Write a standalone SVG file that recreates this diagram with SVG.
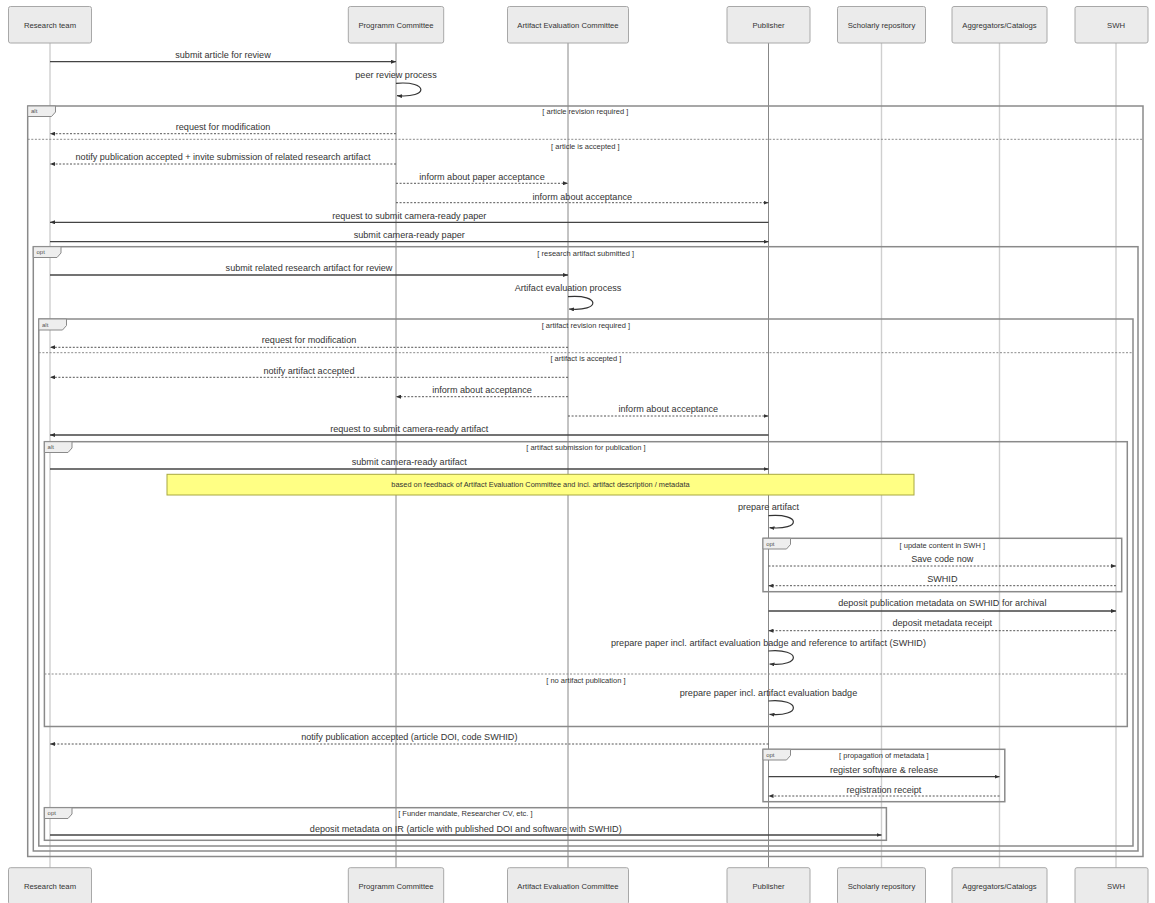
<svg xmlns="http://www.w3.org/2000/svg" width="1155" height="903" viewBox="0 0 1155 903">
<defs>
<style>
.box{fill:#ebebeb;stroke:#a8a8a8;stroke-width:1}
.plabel{font-family:"Liberation Sans",Arial,sans-serif;font-size:7.7px;fill:#333;text-anchor:middle;dominant-baseline:central}
.life{stroke:#888;stroke-width:1}
.lifel{stroke:#cfcfcf;stroke-width:1.4}
.msg{font-family:"Liberation Sans",Arial,sans-serif;font-size:9.1px;fill:#333;text-anchor:middle;dominant-baseline:central}
.solid{stroke:#444;stroke-width:1.3;fill:none;marker-end:url(#ah)}
.dot{stroke:#555;stroke-width:1;stroke-dasharray:2,1.6;fill:none;marker-end:url(#ah)}
.loop{stroke:#333;stroke-width:1.2;fill:none;marker-end:url(#ah)}
.frame{fill:none;stroke:#8a8a8a;stroke-width:1.5}
.sep{stroke:#8a8a8a;stroke-width:1;stroke-dasharray:2,1.6}
.tab{fill:#eeeeee;stroke:#8a8a8a;stroke-width:1}
.tabt{font-family:"Liberation Sans",Arial,sans-serif;font-size:6px;fill:#555;dominant-baseline:central}
.flabel{font-family:"Liberation Sans",Arial,sans-serif;font-size:7.5px;fill:#333;text-anchor:middle;dominant-baseline:central}
.note{fill:#ffff84;stroke:#a8a840;stroke-width:1}
.notet{font-family:"Liberation Sans",Arial,sans-serif;font-size:7.4px;fill:#333;text-anchor:middle;dominant-baseline:central}
</style>
<marker id="ah" viewBox="0 0 5 4" refX="5" refY="2" markerWidth="5" markerHeight="4" markerUnits="userSpaceOnUse" orient="auto">
<path d="M0,0 L5,2 L0,4 z" fill="#333"/>
</marker>
</defs>
<rect x="0" y="0" width="1155" height="903" fill="#ffffff"/>

<g id="lifelines">
<line class="lifel" x1="50" y1="43" x2="50" y2="868"/>
<line class="life" x1="396" y1="43" x2="396" y2="868"/>
<line class="life" x1="568" y1="43" x2="568" y2="868"/>
<line class="life" x1="768.5" y1="43" x2="768.5" y2="868"/>
<line class="lifel" x1="881.5" y1="43" x2="881.5" y2="868"/>
<line class="lifel" x1="999.5" y1="43" x2="999.5" y2="868"/>
<line class="lifel" x1="1116" y1="43" x2="1116" y2="868"/>
</g>

<g id="research-team">
<rect class="box" x="8.5" y="6.5" width="83" height="36.5" rx="2"/>
<text class="plabel" x="50" y="25">Research team</text>
<rect class="box" x="8.5" y="867.7" width="83" height="36.5" rx="2"/>
<text class="plabel" x="50" y="886.5">Research team</text>
</g>
<g id="programm-committee">
<rect class="box" x="348.3" y="6.5" width="95.4" height="36.5" rx="2"/>
<text class="plabel" x="396" y="25">Programm Committee</text>
<rect class="box" x="348.3" y="867.7" width="95.4" height="36.5" rx="2"/>
<text class="plabel" x="396" y="886.5">Programm Committee</text>
</g>
<g id="artifact-evaluation-committee">
<rect class="box" x="507.5" y="6.5" width="121" height="36.5" rx="2"/>
<text class="plabel" x="568" y="25">Artifact Evaluation Committee</text>
<rect class="box" x="507.5" y="867.7" width="121" height="36.5" rx="2"/>
<text class="plabel" x="568" y="886.5">Artifact Evaluation Committee</text>
</g>
<g id="publisher">
<rect class="box" x="727" y="6.5" width="83" height="36.5" rx="2"/>
<text class="plabel" x="768.5" y="25">Publisher</text>
<rect class="box" x="727" y="867.7" width="83" height="36.5" rx="2"/>
<text class="plabel" x="768.5" y="886.5">Publisher</text>
</g>
<g id="scholarly-repository">
<rect class="box" x="837.5" y="6.5" width="88" height="36.5" rx="2"/>
<text class="plabel" x="881.5" y="25">Scholarly repository</text>
<rect class="box" x="837.5" y="867.7" width="88" height="36.5" rx="2"/>
<text class="plabel" x="881.5" y="886.5">Scholarly repository</text>
</g>
<g id="aggregators-catalogs">
<rect class="box" x="952" y="6.5" width="95" height="36.5" rx="2"/>
<text class="plabel" x="999.5" y="25">Aggregators/Catalogs</text>
<rect class="box" x="952" y="867.7" width="95" height="36.5" rx="2"/>
<text class="plabel" x="999.5" y="886.5">Aggregators/Catalogs</text>
</g>
<g id="swh">
<rect class="box" x="1075" y="6.5" width="73" height="36.5" rx="2"/>
<text class="plabel" x="1116" y="25">SWH</text>
<rect class="box" x="1075" y="867.7" width="73" height="36.5" rx="2"/>
<text class="plabel" x="1116" y="886.5">SWH</text>
</g>

<g id="frames">
<g id="frame-alt-article">
<rect class="frame" x="27.7" y="106" width="1115.3" height="750.5"/>
<polygon class="tab" points="27.7,106 55.5,106 55.5,112 51.5,116.5 27.7,116.5"/>
<text class="tabt" x="31" y="111.3">alt</text>
<text class="flabel" x="585.3" y="111.7">[ article revision required ]</text>
<line class="sep" x1="27.7" y1="139.3" x2="1143" y2="139.3"/>
<text class="flabel" x="585.3" y="146">[ article is accepted ]</text>
</g>
<g id="frame-opt-research">
<rect class="frame" x="33.3" y="246.7" width="1104.7" height="604.3"/>
<polygon class="tab" points="33.3,246.7 61,246.7 61,253 57,257.5 33.3,257.5"/>
<text class="tabt" x="36.5" y="252.2">opt</text>
<text class="flabel" x="585.7" y="253.3">[ research artifact submitted ]</text>
</g>
<g id="frame-alt-artifact">
<rect class="frame" x="38.8" y="319" width="1094.2" height="527"/>
<polygon class="tab" points="38.8,319 66.5,319 66.5,325.5 62.5,330 38.8,330"/>
<text class="tabt" x="42" y="324.5">alt</text>
<text class="flabel" x="585.9" y="325.3">[ artifact revision required ]</text>
<line class="sep" x1="38.8" y1="352.7" x2="1133" y2="352.7"/>
<text class="flabel" x="585.9" y="358.3">[ artifact is accepted ]</text>
</g>
<g id="frame-alt-submission">
<rect class="frame" x="44.4" y="441.7" width="1082.9" height="284.8"/>
<polygon class="tab" points="44.4,441.7 72,441.7 72,448 68,452.5 44.4,452.5"/>
<text class="tabt" x="47.6" y="447.2">alt</text>
<text class="flabel" x="585.9" y="447.3">[ artifact submission for publication ]</text>
<line class="sep" x1="44.4" y1="674" x2="1127.3" y2="674"/>
<text class="flabel" x="585.9" y="680">[ no artifact publication ]</text>
</g>
<g id="frame-opt-swh">
<rect class="frame" x="763" y="538.3" width="358.7" height="53.4"/>
<polygon class="tab" points="763,538.3 790.5,538.3 790.5,544.5 786.5,549 763,549"/>
<text class="tabt" x="766.2" y="543.7">opt</text>
<text class="flabel" x="942.3" y="545">[ update content in SWH ]</text>
</g>
<g id="frame-opt-propagation">
<rect class="frame" x="763" y="749.3" width="241.8" height="52.4"/>
<polygon class="tab" points="763,749.3 790.5,749.3 790.5,755.5 786.5,760 763,760"/>
<text class="tabt" x="766.2" y="754.7">opt</text>
<text class="flabel" x="883.9" y="755">[ propagation of metadata ]</text>
</g>
<g id="frame-opt-funder">
<rect class="frame" x="44.4" y="807.7" width="842" height="32.6"/>
<polygon class="tab" points="44.4,807.7 72,807.7 72,814 68,818.5 44.4,818.5"/>
<text class="tabt" x="47.6" y="813.2">opt</text>
<text class="flabel" x="465.4" y="813.8">[ Funder mandate, Researcher CV, etc. ]</text>
</g>
</g>

<g id="note">
<rect class="note" x="167" y="474.3" width="747" height="20.7"/>
<text class="notet" x="540.5" y="484.7">based on feedback of Artifact Evaluation Committee and incl. artifact description / metadata</text>
</g>

<g id="connectors">
<line class="solid" x1="50" y1="61.7" x2="396" y2="61.7"/>
<path class="loop" d="M396,83.3 C429,80.5 429,98.5 397,95.7"/>
<line class="dot" x1="396" y1="133.7" x2="50" y2="133.7"/>
<line class="dot" x1="396" y1="164" x2="50" y2="164"/>
<line class="dot" x1="396" y1="183.3" x2="568" y2="183.3"/>
<line class="dot" x1="396" y1="202.7" x2="768.5" y2="202.7"/>
<line class="solid" x1="768.5" y1="222.3" x2="50" y2="222.3"/>
<line class="solid" x1="50" y1="241.7" x2="768.5" y2="241.7"/>
<line class="solid" x1="50" y1="275" x2="568" y2="275"/>
<path class="loop" d="M568,296.7 C601,294 601,311.8 569,309"/>
<line class="dot" x1="568" y1="347.3" x2="50" y2="347.3"/>
<line class="dot" x1="568" y1="377.3" x2="50" y2="377.3"/>
<line class="dot" x1="568" y1="396.7" x2="396" y2="396.7"/>
<line class="dot" x1="568" y1="416" x2="768.5" y2="416"/>
<line class="solid" x1="768.5" y1="435" x2="50" y2="435"/>
<line class="solid" x1="50" y1="469" x2="768.5" y2="469"/>
<path class="loop" d="M768.5,515.7 C801.5,513 801.5,530.5 769.5,527.7"/>
<line class="dot" x1="768.5" y1="566" x2="1116" y2="566"/>
<line class="dot" x1="1116" y1="585.7" x2="768.5" y2="585.7"/>
<line class="solid" x1="768.5" y1="611" x2="1116" y2="611"/>
<line class="dot" x1="1116" y1="630.7" x2="768.5" y2="630.7"/>
<path class="loop" d="M768.5,651 C801.5,648.2 801.5,666.8 769.5,664"/>
<path class="loop" d="M768.5,701 C801.5,698.2 801.5,717.1 769.5,714.3"/>
<line class="dot" x1="768.5" y1="744" x2="50" y2="744"/>
<line class="solid" x1="768.5" y1="776.7" x2="999.5" y2="776.7"/>
<line class="dot" x1="999.5" y1="796" x2="768.5" y2="796"/>
<line class="solid" x1="50" y1="835" x2="881.5" y2="835"/>
</g>

<g id="message-labels">
<text class="msg" x="223" y="55">submit article for review</text>
<text class="msg" x="396" y="75">peer review process</text>
<text class="msg" x="223" y="126.7">request for modification</text>
<text class="msg" x="223" y="157.3">notify publication accepted + invite submission of related research artifact</text>
<text class="msg" x="482" y="177.3">inform about paper acceptance</text>
<text class="msg" x="582.3" y="196.7">inform about acceptance</text>
<text class="msg" x="409.3" y="216">request to submit camera-ready paper</text>
<text class="msg" x="409.3" y="235">submit camera-ready paper</text>
<text class="msg" x="309" y="268.3">submit related research artifact for review</text>
<text class="msg" x="568" y="287.7">Artifact evaluation process</text>
<text class="msg" x="309" y="340">request for modification</text>
<text class="msg" x="309" y="370.7">notify artifact accepted</text>
<text class="msg" x="482" y="390">inform about acceptance</text>
<text class="msg" x="668.3" y="409.3">inform about acceptance</text>
<text class="msg" x="409.3" y="429">request to submit camera-ready artifact</text>
<text class="msg" x="409.3" y="462.3">submit camera-ready artifact</text>
<text class="msg" x="768.5" y="507.3">prepare artifact</text>
<text class="msg" x="942.3" y="559.3">Save code now</text>
<text class="msg" x="942.3" y="579">SWHID</text>
<text class="msg" x="942.3" y="603.3">deposit publication metadata on SWHID for archival</text>
<text class="msg" x="942.3" y="623.3">deposit metadata receipt</text>
<text class="msg" x="768.5" y="643.3">prepare paper incl. artifact evaluation badge and reference to artifact (SWHID)</text>
<text class="msg" x="768.5" y="693.3">prepare paper incl. artifact evaluation badge</text>
<text class="msg" x="409.3" y="736.7">notify publication accepted (article DOI, code SWHID)</text>
<text class="msg" x="884" y="770">register software &amp; release</text>
<text class="msg" x="884" y="790">registration receipt</text>
<text class="msg" x="465.8" y="828.5">deposit metadata on IR (article with published DOI and software with SWHID)</text>
</g>
</svg>
